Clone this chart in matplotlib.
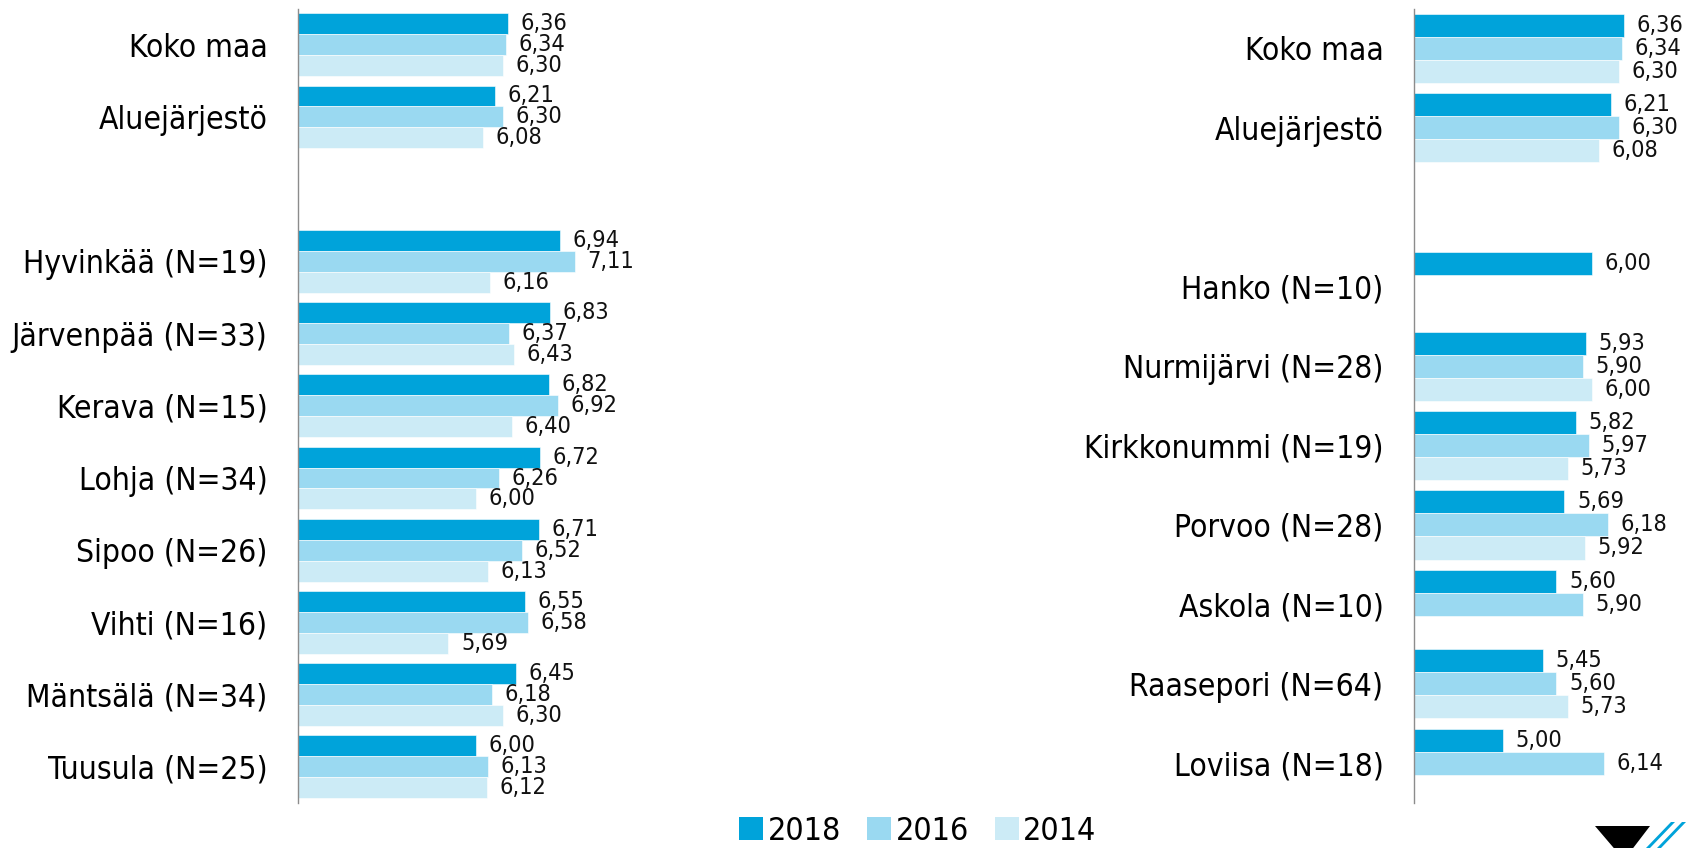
import numpy as np
import matplotlib
matplotlib.use('Agg')
import matplotlib.pyplot as plt
from matplotlib import font_manager
from matplotlib.patches import Patch, Polygon

# use a condensed face if the system has one
cond = [f for f in font_manager.fontManager.ttflist
        if f.name == 'DejaVu Sans' and 'condensed' in str(f.stretch) and f.weight in (400, 'normal')]
plt.rcParams['font.family'] = ['DejaVu Sans']
if cond:
    plt.rcParams['font.stretch'] = 'condensed'
    fs_tick, fs_val, fs_leg = 22.8, 16.8, 23
else:
    fs_tick, fs_val, fs_leg = 20.5, 14.5, 21

years = ['2018', '2016', '2014']
colors = ['#00A3DA', '#9AD9F1', '#CCEBF6']

# left panel
cats_left = ['Koko maa', 'Aluejärjestö', 'Hyvinkää (N=19)', 'Järvenpää (N=33)',
             'Kerava (N=15)', 'Lohja (N=34)', 'Sipoo (N=26)', 'Vihti (N=16)',
             'Mäntsälä (N=34)', 'Tuusula (N=25)']
left_2018 = [6.36, 6.21, 6.94, 6.83, 6.82, 6.72, 6.71, 6.55, 6.45, 6.00]
left_2016 = [6.34, 6.30, 7.11, 6.37, 6.92, 6.26, 6.52, 6.58, 6.18, 6.13]
left_2014 = [6.30, 6.08, 6.16, 6.43, 6.40, 6.00, 6.13, 5.69, 6.30, 6.12]

# right panel (nan = no value)
cats_right = ['Koko maa', 'Aluejärjestö', 'Hanko (N=10)', 'Nurmijärvi (N=28)',
              'Kirkkonummi (N=19)', 'Porvoo (N=28)', 'Askola (N=10)',
              'Raasepori (N=64)', 'Loviisa (N=18)']
right_2018 = [6.36, 6.21, 6.00, 5.93, 5.82, 5.69, 5.60, 5.45, 5.00]
right_2016 = [6.34, 6.30, np.nan, 5.90, 5.97, 6.18, 5.90, 5.60, 6.14]
right_2014 = [6.30, 6.08, np.nan, 6.00, 5.73, 5.92, np.nan, 5.73, np.nan]

W, H = 1690, 848
fig = plt.figure(figsize=(W / 100, H / 100), dpi=100)

bh = 0.29
ppu = 89.0  # pixels per unit on x


def panel(left_px, xmax, cats, series):
    n = len(cats)
    idx = np.arange(n)
    y = idx + (idx >= 2)  # empty row after the two reference rows
    top, bottom = 8.6, 803
    ax = fig.add_axes([left_px / W, (H - bottom) / H, (xmax - 4) * ppu / W, (bottom - top) / H])
    for k, vals in enumerate(series):
        pos = y + (k - 1) * bh
        vals = np.array(vals, dtype=float)
        ax.barh(pos, vals - 4, left=4, height=bh, color=colors[k], edgecolor='white', linewidth=0.4)
        for p, v in zip(pos, vals):
            if np.isnan(v):
                continue
            ax.annotate(f'{v:.2f}'.replace('.', ','), (v, p), xytext=(9, 0),
                        textcoords='offset points', va='center', ha='left',
                        fontsize=fs_val, color='#111111', annotation_clip=False)
    ax.set_xlim(4, xmax)
    ax.set_ylim(y[-1] + 0.5, -0.5)
    ax.set_yticks(y)
    ax.set_yticklabels(cats, fontsize=fs_tick)
    ax.tick_params(axis='y', length=0, pad=22)
    ax.set_xticks([])
    for s in ['top', 'right', 'bottom']:
        ax.spines[s].set_visible(False)
    ax.spines['left'].set_color('#8c8c8c')
    ax.spines['left'].set_linewidth(1.0)
    return ax


panel(298, 8, cats_left, [left_2018, left_2016, left_2014])
panel(1414, 7, cats_right, [right_2018, right_2016, right_2014])

handles = [Patch(facecolor=c, edgecolor='none') for c in colors]
fig.legend(handles, years, loc='center', bbox_to_anchor=(918 / W, 1 - 831 / H), ncol=3,
           frameon=False, fontsize=fs_leg, handlelength=0.75, handleheight=0.75,
           handletextpad=0.15, columnspacing=0.8)

# logo in the bottom right corner
def fx(px, py):
    return (px / W, 1 - py / H)

fig.patches.append(Polygon([fx(1595, 826), fx(1650, 826), fx(1624, 860)], closed=True,
                           facecolor='black', transform=fig.transFigure, figure=fig))
for off in [0, 11]:
    fig.patches.append(Polygon([fx(1646 + off, 848), fx(1650 + off, 848),
                                fx(1675 + off, 822), fx(1671 + off, 822)], closed=True,
                               facecolor='#00A3DA', transform=fig.transFigure, figure=fig))

fig.savefig('out.png', dpi=100)
